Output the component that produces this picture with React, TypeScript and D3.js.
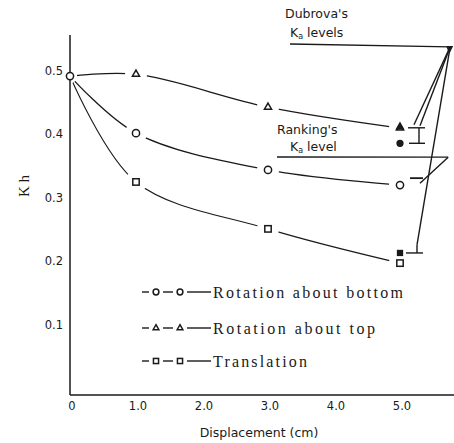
import React from 'react';
import * as d3 from 'd3';

const W = 454;
const H = 443;

const displacement = [0, 1, 3, 5];
const rotBottom = [0.492, 0.402, 0.344, 0.32];
const rotTop = [0.492, 0.495, 0.443, 0.41];
const translation = [0.492, 0.325, 0.251, 0.197];

const xTicks = [0, 1, 2, 3, 4, 5];
const xTickLabels = ['0', '1.0', '2.0', '3.0', '4.0', '5.0'];
const yTicks = [0.1, 0.2, 0.3, 0.4, 0.5];

// Dubrova's and Ranking's levels at 5 cm
const dubrovaTop = 0.412;
const dubrovaBottom = 0.386;
const dubrovaTrans = 0.213;
const rankingLevel = 0.331;

const legendItems = ['Rotation about bottom', 'Rotation about top', 'Translation'];
const legendWidths = [190, 162, 94];

const x = d3.scaleLinear().domain([0, 5]).range([70, 400]);
const y = d3.scaleLinear().domain([0, 0.5]).range([388, 71]);

const line = d3
  .line<number>()
  .x((_, i) => x(displacement[i]))
  .y((d) => y(d))
  .curve(d3.curveCatmullRom.alpha(0.5));

const ink = '#1a1a1a';

function Marker({ kind, cx, cy, filled = false, s = 1 }: { kind: string; cx: number; cy: number; filled?: boolean; s?: number }) {
  const fill = filled ? ink : 'white';
  if (kind === 'circle') return <circle cx={cx} cy={cy} r={3.6 * s} fill={fill} stroke={ink} strokeWidth={1.5} />;
  if (kind === 'square')
    return <rect x={cx - 3.2 * s} y={cy - 3.2 * s} width={6.4 * s} height={6.4 * s} fill={fill} stroke={ink} strokeWidth={1.5} />;
  const sym = d3.symbol().type(d3.symbolTriangle).size(22 * s * s)()!;
  return <path d={sym} transform={`translate(${cx},${cy})`} fill={fill} stroke={ink} strokeWidth={1.5} />;
}

const series = [
  { values: rotBottom, kind: 'circle', width: 1.3 },
  { values: rotTop, kind: 'triangle', width: 1.3 },
  { values: translation, kind: 'square', width: 1.1 },
];

export default function App() {
  const apex = { x: x(5.76), y: y(0.538) };
  const rankEnd = { x: x(5.73), y: y(0.364) };
  return (
    <svg width={W} height={H} style={{ position: 'absolute', left: 0, top: 0, background: 'white' }}>
      {/* curves */}
      {series.map((s, i) => (
        <path key={i} d={line(s.values)!} fill="none" stroke={ink} strokeWidth={s.width} />
      ))}
      {/* gaps around markers */}
      {series.map((s) =>
        s.values.map((v, j) => <circle key={s.kind + j} cx={x(displacement[j])} cy={y(v)} r={j === 0 ? 7 : 11} fill="white" />)
      )}

      {/* axes */}
      <line x1={70} x2={70} y1={35} y2={395} stroke={ink} strokeWidth={1.5} />
      <line x1={70} x2={454} y1={395} y2={395} stroke={ink} strokeWidth={1.5} />
      {yTicks.map((t) => (
        <text key={t} x={63} y={y(t) + 4} textAnchor="end" fontFamily="DejaVu Sans" fontSize={11.5} fill={ink}>
          {t.toFixed(1)}
        </text>
      ))}
      {xTicks.map((t, i) => (
        <text key={t} x={x(t) + 2} y={410} textAnchor="middle" fontFamily="DejaVu Sans" fontSize={11.5} fill={ink}>
          {xTickLabels[i]}
        </text>
      ))}
      <text x={259} y={437} textAnchor="middle" fontFamily="DejaVu Sans" fontSize={12.5} fill={ink}>
        Displacement (cm)
      </text>
      <text transform="translate(29,186) rotate(-90)" textAnchor="middle" fontFamily="Liberation Serif" fontSize={15} fill={ink}>
        K h
      </text>

      {/* markers: shared starting point drawn once as a circle */}
      <Marker kind="circle" cx={x(displacement[0])} cy={y(rotBottom[0])} />
      {series.map((s) =>
        s.values.slice(1).map((v, j) => <Marker key={s.kind + 'm' + j} kind={s.kind} cx={x(displacement[j + 1])} cy={y(v)} />)
      )}

      {/* Dubrova's levels */}
      <Marker kind="triangle" cx={x(5)} cy={y(dubrovaTop)} filled s={0.9} />
      <Marker kind="circle" cx={x(5)} cy={y(dubrovaBottom)} filled s={0.8} />
      <Marker kind="square" cx={x(5)} cy={y(dubrovaTrans)} filled s={0.75} />
      <g stroke={ink} strokeWidth={1.4} fill="none">
        <line x1={x(5) + 8} x2={x(5) + 25} y1={y(dubrovaTop) + 1} y2={y(dubrovaTop) + 1} />
        <line x1={x(5) + 19} x2={x(5) + 19} y1={y(dubrovaTop) + 1} y2={y(dubrovaBottom)} />
        <line x1={x(5) + 9} x2={x(5) + 25} y1={y(dubrovaBottom)} y2={y(dubrovaBottom)} />
        <line x1={x(5) + 6} x2={x(5) + 23} y1={y(dubrovaTrans)} y2={y(dubrovaTrans)} />
        <line x1={x(5) + 17} x2={x(5) + 17} y1={y(dubrovaTrans) - 8} y2={y(dubrovaTrans)} />
        <line x1={x(5) + 10} x2={x(5) + 23} y1={y(rankingLevel)} y2={y(rankingLevel)} strokeWidth={1.8} />
        {/* leader lines */}
        <line x1={290} x2={apex.x} y1={44} y2={apex.y} strokeWidth={1.3} />
        <line x1={apex.x} x2={x(5) + 14} y1={apex.y} y2={y(dubrovaTop) - 2} />
        <line x1={apex.x} x2={x(5) + 20} y1={apex.y} y2={y(dubrovaTop) - 1} />
        <line x1={apex.x} x2={x(5) + 17} y1={apex.y} y2={y(dubrovaTrans) - 8} />
        <line x1={277} x2={rankEnd.x} y1={157} y2={rankEnd.y} strokeWidth={1.3} />
        <line x1={rankEnd.x} x2={x(5) + 20} y1={rankEnd.y} y2={y(rankingLevel) + 5} />
      </g>
      <path d={`M${apex.x - 4},${apex.y - 1} L${apex.x + 3},${apex.y - 1} L${apex.x - 1},${apex.y + 7} Z`} fill={ink} />
      <text fontFamily="DejaVu Sans" fontSize={12.5} fill={ink}>
        <tspan x={285} y={18}>Dubrova's</tspan>
        <tspan x={290} y={37}>K</tspan>
        <tspan fontSize={8} dy={2}>a</tspan>
        <tspan dy={-2}> levels</tspan>
      </text>
      <text fontFamily="DejaVu Sans" fontSize={12.5} fill={ink}>
        <tspan x={277} y={134}>Ranking's</tspan>
        <tspan x={290} y={151}>K</tspan>
        <tspan fontSize={8} dy={2}>a</tspan>
        <tspan dy={-2}> level</tspan>
      </text>

      {/* legend */}
      {legendItems.map((label, i) => {
        const cy = [292, 328, 361][i];
        const kind = series[i].kind;
        return (
          <g key={label}>
            <g stroke={ink} strokeWidth={1.4}>
              <line x1={142} x2={149} y1={cy} y2={cy} />
              <line x1={163} x2={173} y1={cy} y2={cy} />
              <line x1={187} x2={211} y1={cy} y2={cy} />
            </g>
            <Marker kind={kind} cx={156} cy={cy} s={0.8} />
            <Marker kind={kind} cx={180} cy={cy} s={0.8} />
            <text
              x={213}
              y={cy + 6}
              fontFamily="Liberation Serif"
              fontSize={16}
              fill={ink}
              textLength={legendWidths[i]}
              lengthAdjust="spacing"
            >
              {label}
            </text>
          </g>
        );
      })}
    </svg>
  );
}
